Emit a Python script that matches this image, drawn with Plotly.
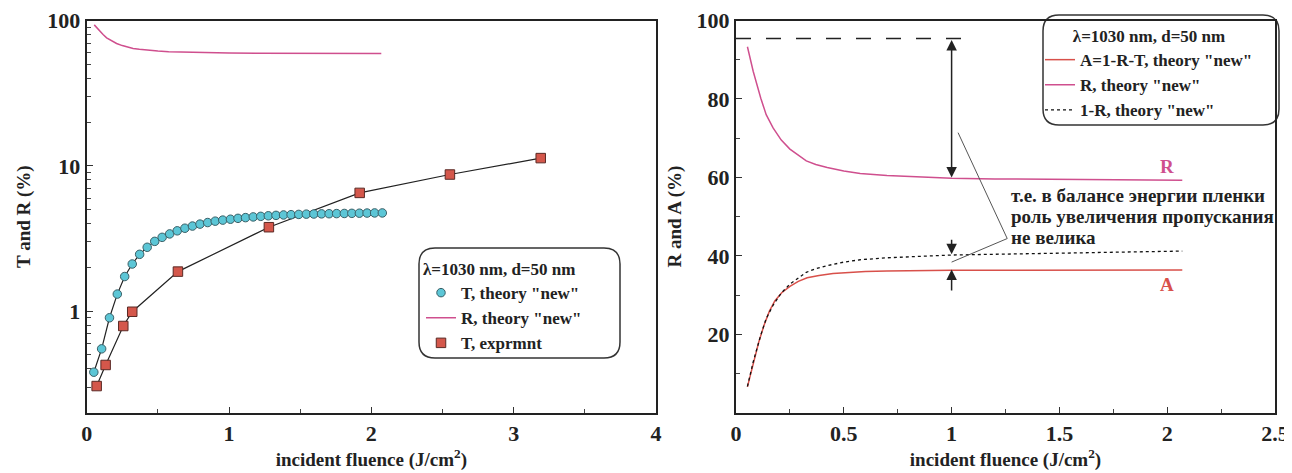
import plotly.graph_objects as go

# ---------------- data ----------------
# left panel: T theory (circles), T experiment (squares), R theory (line)
T_theory_x = [0.05, 0.105, 0.16, 0.215, 0.267, 0.32, 0.372, 0.425, 0.478, 0.53, 0.583, 0.636,
              0.69, 0.743, 0.796, 0.85, 0.903, 0.956, 1.01, 1.063, 1.116, 1.17, 1.223, 1.276,
              1.33, 1.383, 1.436, 1.49, 1.543, 1.596, 1.65, 1.703, 1.756, 1.81, 1.863, 1.916,
              1.97, 2.023, 2.077]
T_theory = [0.38, 0.55, 0.90, 1.31, 1.73, 2.11, 2.46, 2.75, 3.02, 3.22, 3.40, 3.57,
            3.72, 3.85, 3.97, 4.07, 4.16, 4.23, 4.29, 4.35, 4.40, 4.45, 4.49, 4.53,
            4.56, 4.59, 4.61, 4.63, 4.65, 4.66, 4.67, 4.68, 4.69, 4.70, 4.71, 4.72,
            4.73, 4.74, 4.74]

T_exp_x = [0.07, 0.133, 0.257, 0.32, 0.641, 1.28, 1.918, 2.552, 3.19]
T_exp = [0.305, 0.426, 0.79, 0.99, 1.87, 3.78, 6.51, 8.71, 11.3]

R_x = [0.053, 0.08, 0.115, 0.14, 0.172, 0.21, 0.25, 0.29, 0.326, 0.37, 0.423, 0.5,
       0.576, 0.7, 0.807, 1.0, 1.2, 1.4, 1.6, 1.8, 2.07]
R_vals = [93.3, 87.0, 80.2, 76.0, 72.6, 69.5, 67.2, 65.5, 64.2, 63.3, 62.5, 61.6,
          61.0, 60.5, 60.2, 59.8, 59.6, 59.5, 59.4, 59.35, 59.3]

# right panel: A = 1-R-T, R, 1-R
A_x = [0.053, 0.08, 0.105, 0.13, 0.155, 0.18, 0.212, 0.25, 0.289, 0.33, 0.385, 0.45,
       0.52, 0.6, 0.7, 0.8, 1.0, 1.3, 1.6, 2.07]
A_vals = [6.6, 12.5, 17.9, 22.3, 25.9, 28.5, 30.6, 32.2, 33.5, 34.4, 35.0, 35.5,
          35.8, 36.0, 36.1, 36.2, 36.3, 36.35, 36.4, 36.4]

OMR_x = [0.053, 0.08, 0.115, 0.14, 0.172, 0.21, 0.25, 0.29, 0.326, 0.37, 0.423, 0.5,
         0.576, 0.7, 0.807, 1.0, 1.2, 1.4, 1.6, 1.8, 2.07]
OMR_vals = [6.7, 13.0, 19.8, 24.0, 27.4, 30.5, 32.8, 34.5, 35.8, 36.7, 37.5, 38.4,
            39.0, 39.5, 39.8, 40.2, 40.4, 40.6, 40.8, 41.0, 41.2]

legend_title = "λ=1030 nm, d=50 nm"
note_lines = ["т.е. в балансе энергии пленки", "роль увеличения пропускания", "не велика"]
note_y = [55.4, 49.9, 44.6]

# ---------------- styling ----------------
OFF = 8                      # page body margin of the html page
W, H = 1292 - OFF, 473 - OFF  # figure size
FONT = "Liberation Serif"
CYAN = "#5cc6d6"
RED_SQ = "#d4574b"
PINK = "#cf4f8e"
RED_LINE = "#d8504a"
INK = "#222222"


def px(x):
    # screenshot pixel -> paper fraction
    return (x - OFF) / W


def py(y):
    return 1 - (y - OFF) / H


def rounded_box(x0, y0, x1, y1, r):
    pts = [
        f"M {px(x0 + r)},{py(y0)}",
        f"L {px(x1 - r)},{py(y0)}",
        f"Q {px(x1)},{py(y0)} {px(x1)},{py(y0 + r)}",
        f"L {px(x1)},{py(y1 - r)}",
        f"Q {px(x1)},{py(y1)} {px(x1 - r)},{py(y1)}",
        f"L {px(x0 + r)},{py(y1)}",
        f"Q {px(x0)},{py(y1)} {px(x0)},{py(y1 - r)}",
        f"L {px(x0)},{py(y0 + r)}",
        f"Q {px(x0)},{py(y0)} {px(x0 + r)},{py(y0)}",
        "Z",
    ]
    return " ".join(pts)


fig = go.Figure()

# ---- left panel ----
fig.add_trace(go.Scatter(x=T_theory_x, y=T_theory, mode="lines", showlegend=False,
                         line=dict(color=INK, width=1.2), xaxis="x", yaxis="y"))
fig.add_trace(go.Scatter(x=T_exp_x, y=T_exp, mode="lines", showlegend=False,
                         line=dict(color=INK, width=1.2), xaxis="x", yaxis="y"))
fig.add_trace(go.Scatter(x=T_theory_x, y=T_theory, mode="markers", name='T, theory "new"',
                         marker=dict(symbol="circle", size=8.5, color=CYAN,
                                     line=dict(color="#3a5f66", width=1)),
                         xaxis="x", yaxis="y", legend="legend", legendrank=1))
fig.add_trace(go.Scatter(x=R_x, y=R_vals, mode="lines", name='R, theory "new"',
                         line=dict(color=PINK, width=1.5), xaxis="x", yaxis="y",
                         legend="legend", legendrank=2))
fig.add_trace(go.Scatter(x=T_exp_x, y=T_exp, mode="markers", name="T, exprmnt",
                         marker=dict(symbol="square", size=9.5, color=RED_SQ,
                                     line=dict(color="#5a2a25", width=1)),
                         xaxis="x", yaxis="y", legend="legend", legendrank=3))

# ---- right panel ----
fig.add_trace(go.Scatter(x=A_x, y=A_vals, mode="lines", name='A=1-R-T, theory "new"',
                         line=dict(color=RED_LINE, width=1.5), xaxis="x2", yaxis="y2",
                         legend="legend2", legendrank=1))
fig.add_trace(go.Scatter(x=R_x, y=R_vals, mode="lines", name='R, theory "new"',
                         line=dict(color=PINK, width=1.5), xaxis="x2", yaxis="y2",
                         legend="legend2", legendrank=2))
fig.add_trace(go.Scatter(x=OMR_x, y=OMR_vals, mode="lines", name='1-R, theory "new"',
                         line=dict(color="#111111", width=1.3, dash="dot"), xaxis="x2", yaxis="y2",
                         legend="legend2", legendrank=3))

tickfont = dict(family=FONT, size=22, color=INK, weight="bold")
titlefont = dict(family=FONT, size=19, color=INK, weight="bold")
axis_common = dict(showline=True, linecolor=INK, linewidth=2, mirror=True,
                   ticks="inside", ticklen=6, tickwidth=1.2, tickcolor="#333333",
                   showgrid=False, zeroline=False, tickfont=tickfont, automargin=False)

ydom = [py(412.7), py(20.5)]

log_minor = [0.2, 0.3, 0.4, 0.5, 0.6, 0.7, 0.8, 0.9, 2, 3, 4, 5, 6, 7, 8, 9,
             20, 30, 40, 50, 60, 70, 80, 90]

fig.update_layout(
    width=W, height=H,
    margin=dict(l=0, r=0, t=0, b=0, autoexpand=False),
    paper_bgcolor="white", plot_bgcolor="white",
    showlegend=True,
    xaxis=dict(domain=[px(86.7), px(656)], range=[0, 4], anchor="y", dtick=1,
               minor=dict(ticks="inside", dtick=0.5, ticklen=4, tickcolor="#444444"),
               title=dict(text="incident fluence (J/cm<sup>2</sup>)", font=titlefont, standoff=2),
               **axis_common),
    yaxis=dict(domain=ydom, type="log", range=[-0.699, 2], anchor="x",
               tickvals=[1, 10, 100], ticktext=["1", "10", "100"],
               minor=dict(ticks="inside", tickvals=log_minor, ticklen=4, tickcolor="#444444"),
               title=dict(text="T and R (%)", font=titlefont, standoff=12),
               **axis_common),
    xaxis2=dict(domain=[px(736), px(1275)], range=[0, 2.5], anchor="y2", dtick=0.5,
                minor=dict(ticks="inside", dtick=0.25, ticklen=4, tickcolor="#444444"),
                title=dict(text="incident fluence (J/cm<sup>2</sup>)", font=titlefont, standoff=2),
                **axis_common),
    yaxis2=dict(domain=ydom, range=[0, 100], anchor="x2", tickvals=[20, 40, 60, 80, 100],
                minor=dict(ticks="inside", dtick=10, ticklen=4, tickcolor="#444444"),
                title=dict(text="R and A (%)", font=titlefont, standoff=10),
                **axis_common),
    legend=dict(x=px(421), y=py(253), xanchor="left", yanchor="top",
                bgcolor="rgba(0,0,0,0)", borderwidth=0,
                title=dict(text=legend_title, font=dict(family=FONT, size=17, weight="bold",
                                                        color=INK)),
                font=dict(family=FONT, size=17, weight="bold", color=INK)),
    legend2=dict(x=px(1040), y=py(20), xanchor="left", yanchor="top",
                 bgcolor="rgba(0,0,0,0)", borderwidth=0,
                 title=dict(text=legend_title, side="top center",
                            font=dict(family=FONT, size=17, weight="bold", color=INK)),
                 font=dict(family=FONT, size=17, weight="bold", color=INK)),
)

# legend boxes with rounded corners
fig.add_shape(type="path", xref="paper", yref="paper",
              path=rounded_box(419, 248, 620, 358, 16),
              line=dict(color="#333333", width=1.5), fillcolor="rgba(0,0,0,0)")
fig.add_shape(type="path", xref="paper", yref="paper",
              path=rounded_box(1043, 15, 1279, 125, 16),
              line=dict(color="#333333", width=1.5), fillcolor="white", layer="below")

# dashed horizontal line at ~95 %
fig.add_shape(type="line", xref="x2", yref="y2", x0=0, x1=1.07, y0=95.4, y1=95.4,
              line=dict(color=INK, width=1.5, dash="longdash"))
# leader lines from the note
fig.add_shape(type="path", xref="x2", yref="y2",
              path="M 1.03,71.4 L 1.258,44.4 L 1.0,38.4",
              line=dict(color="#555555", width=1))

# arrows
arrow_common = dict(xref="x2", yref="y2", axref="x2", ayref="y2", text="", showarrow=True,
                    arrowhead=2, arrowsize=1.4, arrowwidth=1.5, arrowcolor=INK)
fig.add_annotation(x=1.0, y=60.0, ax=1.0, ay=95.4, arrowside="end+start", **arrow_common)
fig.add_annotation(x=1.0, y=40.4, ax=1.0, ay=44.5, **arrow_common)
fig.add_annotation(x=1.0, y=36.5, ax=1.0, ay=30.8, **arrow_common)

# curve labels
fig.add_annotation(x=2.0, y=62.8, xref="x2", yref="y2", text="R", showarrow=False,
                   font=dict(family=FONT, size=19, weight="bold", color=PINK))
fig.add_annotation(x=2.0, y=32.6, xref="x2", yref="y2", text="A", showarrow=False,
                   font=dict(family=FONT, size=19, weight="bold", color=RED_LINE))

# russian note, one annotation per line
for line_text, yv in zip(note_lines, note_y):
    fig.add_annotation(x=1.265, y=yv, xref="x2", yref="y2", xanchor="left", yanchor="middle",
                       align="left", text=line_text, showarrow=False,
                       font=dict(family=FONT, size=19, weight="bold", color=INK))

fig.write_html("out.html")
